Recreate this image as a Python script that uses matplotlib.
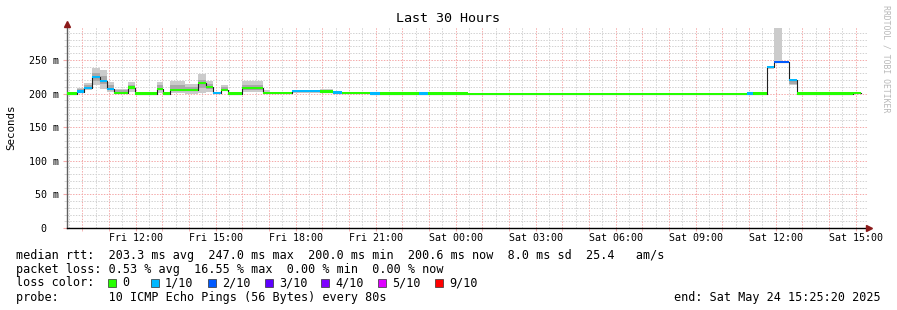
import matplotlib
matplotlib.use("Agg")
import matplotlib.pyplot as plt
from matplotlib.patches import Rectangle
from matplotlib.ticker import FixedLocator, MultipleLocator
import datetime as dt

# ---------------- data ----------------
start_time = dt.datetime(2025, 5, 23, 9, 25, 20)
span_min = 1800  # 30 hours

# segment edges in minutes after start
edges_min = [0, 22.5, 38, 56, 74, 90, 106, 137, 153, 202.5, 216, 232, 265.5, 295,
             313, 328.5, 346.5, 362, 394, 441, 457, 506, 569, 598.5, 619, 682, 704,
             792, 812, 902, 1530, 1543.5, 1575, 1591, 1608, 1624.5, 1642.5, 1768.5, 1786.5]
median_ms = [200, 203, 208, 224, 219, 207, 201, 209, 200, 207, 200, 205.5, 205, 215.5,
             210, 200.5, 205.5, 200, 208, 200.5, 201, 203.5, 203, 201.5, 200.5, 200, 200,
             200, 200, 199.6, 200, 200, 239, 247, 247, 220.5, 200, 200.5]
loss_idx = [0, 1, 1, 1, 1, 1, 0, 0, 0, 0, 0, 0, 0, 0,
            0, 1, 0, 0, 0, 0, 0, 1, 0, 1, 0, 1, 0,
            1, 0, 0, 1, 0, 1, 2, 2, 1, 0, 0]
smoke_lo = [200, 201, 205, 212, 207, 202, 200, 203, 200, 201, 200, 201, 200, 201,
            202, 200, 204, 200, 202, 200, 200, 201, 201, 200, 200, 200, 200,
            200, 200, 199, 200, 200, 236, 247, 247, 212, 200, 200]
smoke_hi = [200, 209, 215, 238, 235, 217, 207, 217, 203, 217, 200, 218, 214, 229,
            219, 200, 212, 201, 218, 205, 203, 206, 207, 204, 203, 200, 200,
            200, 200, 200, 200, 200, 240, 298, 247, 221, 200, 202]

loss_labels = ["0", "1/10", "2/10", "3/10", "4/10", "5/10", "9/10"]
loss_colors = ["#26ff00", "#00b8ff", "#0059ff", "#5e00ff", "#7e00ff", "#dd00ff", "#ff0000"]

y_ticks = [0, 50, 100, 150, 200, 250]
y_tick_labels = ["0\u00a0\u00a0", "50 m", "100 m", "150 m", "200 m", "250 m"]

title = "Last 30 Hours"
y_label = "Seconds"
stats_lines = [
    "median rtt:  203.3 ms avg  247.0 ms max  200.0 ms min  200.6 ms now  8.0 ms sd  25.4   am/s",
    "packet loss: 0.53 % avg  16.55 % max  0.00 % min  0.00 % now",
]
probe_line = "probe:       10 ICMP Echo Pings (56 Bytes) every 80s"
end_line = "end: Sat May 24 15:25:20 2025"
credit = "RRDTOOL / TOBI OETIKER"

# ---------------- figure ----------------
W, H = 897, 310
fig = plt.figure(figsize=(W / 100, H / 100), dpi=100)
fig.patch.set_facecolor("white")
MONO = "DejaVu Sans Mono"

L, R, T, B = 67, 867, 27, 228
ax = fig.add_axes([L / W, (H - B) / H, (R - L) / W, (B - T) / H])
ax.set_facecolor("white")
ax.set_xlim(0, span_min)
ax.set_ylim(0, 299)

# grid
grid_minor = "#d2d2d2"
grid_major = "#f4aaaa"
first_hour = 60 - (start_time.minute + start_time.second / 60)  # minutes to first full hour
half_hours = []
hours = []
m = first_hour - 30
while m <= span_min:
    if m >= 0:
        half_hours.append(m)
    m += 30
m = first_hour
while m <= span_min:
    hours.append(m)
    m += 60
dash = (0, (1.4, 1.4))
for x in half_hours:
    if x not in hours:
        ax.axvline(x, color=grid_minor, lw=0.72, ls=dash, zorder=0)
for x in hours:
    ax.axvline(x, color=grid_major, lw=0.72, ls=dash, zorder=0.5)
for yv in range(10, 300, 10):
    if yv % 50:
        ax.axhline(yv, color=grid_minor, lw=0.72, ls=dash, zorder=0)
for yv in y_ticks[1:]:
    ax.axhline(yv, color=grid_major, lw=0.72, ls=dash, zorder=0.5)

# smoke (outer light band + darker inner part)
for i in range(len(median_ms)):
    x0, x1 = edges_min[i], edges_min[i + 1]
    lo, hi = smoke_lo[i], smoke_hi[i]
    if hi > lo:
        ax.fill_between([x0, x1], lo, hi, color="#cbcbcb", lw=0, zorder=1)
        if hi - lo > 6 and hi < 290:
            d = hi - lo
            ax.fill_between([x0, x1], lo + 0.25 * d, lo + 0.7 * d, color="#a9a9a9", lw=0, zorder=1.2)

# black median step line
xs, ys = [], []
for i in range(len(median_ms)):
    xs += [edges_min[i], edges_min[i + 1]]
    ys += [median_ms[i], median_ms[i]]
ax.plot(xs, ys, color="#202020", lw=0.8, zorder=2)

# coloured loss bands
sw = 1.6
for i in range(len(median_ms)):
    x0, x1 = edges_min[i], edges_min[i + 1]
    ax.fill_between([x0, x1], median_ms[i] - sw, median_ms[i] + sw,
                    color=loss_colors[loss_idx[i]], lw=0, zorder=3)

# axes styling
for s in ["top", "right"]:
    ax.spines[s].set_visible(False)
ax.spines["left"].set_color("#606060")
ax.spines["left"].set_linewidth(1.0)
ax.spines["bottom"].set_color("black")
ax.spines["bottom"].set_linewidth(1.0)

label_ticks = [h for h in hours if (start_time + dt.timedelta(minutes=h)).hour % 3 == 0]
ax.xaxis.set_major_locator(FixedLocator(label_ticks))
ax.set_xticklabels([(start_time + dt.timedelta(minutes=h)).strftime("%a %H:%M") for h in label_ticks],
                   fontsize=7.2, family=MONO)
ax.xaxis.set_minor_locator(FixedLocator(hours))
ax.tick_params(axis="x", which="major", length=2, color=grid_major, pad=1.5)
ax.tick_params(axis="x", which="minor", length=2, color=grid_major)

ax.yaxis.set_major_locator(FixedLocator(y_ticks))
ax.set_yticklabels(y_tick_labels, fontsize=7.2, family=MONO)
ax.yaxis.set_minor_locator(MultipleLocator(10))
ax.tick_params(axis="y", which="major", length=3, color=grid_major, pad=3)
ax.tick_params(axis="y", which="minor", length=2, color=grid_minor)

# arrows
ax.plot([1.003], [0], marker=">", color="#8b1a1a", ms=4, transform=ax.transAxes, clip_on=False, zorder=5)
ax.plot([0], [1.015], marker="^", color="#8b1a1a", ms=4, transform=ax.transAxes, clip_on=False, zorder=5)
ax.plot([1, 1.004], [0, 0], color="black", lw=1, transform=ax.transAxes, clip_on=False)
ax.plot([0, 0], [1, 1.015], color="#606060", lw=1, transform=ax.transAxes, clip_on=False)


def fx(px):
    return px / W


def fy(py):
    return 1 - py / H


fig.text(fx(448), fy(19), title, ha="center", va="center", fontsize=9.6, family=MONO)
fig.text(fx(11), fy(127), y_label, ha="center", va="center", rotation=90, fontsize=7.8, family=MONO)
fig.text(fx(886), fy(5), credit, ha="center", va="top", rotation=-90, fontsize=5.9,
         family=MONO, color="#b8b8b8")

cw = 7.1
fs_leg = 8.45
x_leg = 16
base = [258.5, 272.5, 286.5, 300.5]
for k, line in enumerate(stats_lines):
    fig.text(fx(x_leg), fy(base[k]), line, ha="left", va="baseline", fontsize=fs_leg, family=MONO)
fig.text(fx(x_leg), fy(base[2]), "loss color:", ha="left", va="baseline", fontsize=fs_leg, family=MONO)
col = 13
for lab, c in zip(loss_labels, loss_colors):
    xs_ = x_leg + col * cw
    fig.add_artist(Rectangle((fx(xs_), fy(286.5)), 8 / W, 8 / H, facecolor=c,
                             edgecolor="#303030", lw=0.5, transform=fig.transFigure))
    fig.text(fx(xs_ + 2 * cw), fy(base[2]), lab, ha="left", va="baseline", fontsize=fs_leg, family=MONO)
    col += 2 + len(lab) + 2 + (1 if lab == "0" else 0)
fig.text(fx(x_leg), fy(base[3]), probe_line, ha="left", va="baseline", fontsize=fs_leg, family=MONO)
fig.text(fx(881), fy(base[3]), end_line, ha="right", va="baseline", fontsize=fs_leg, family=MONO)

fig.savefig("out.png", dpi=100, facecolor="white")
